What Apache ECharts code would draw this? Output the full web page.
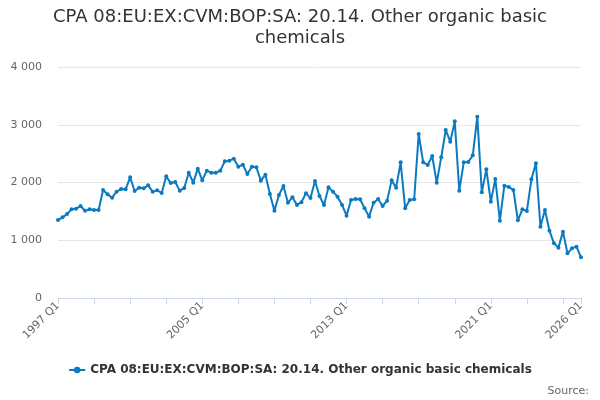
<!DOCTYPE html>
<html lang="en">
<head>
    <meta charset="UTF-8">
    <title>CPA 08:EU:EX:CVM:BOP:SA: 20.14. Other organic basic chemicals</title>
    <script src="https://cdn.jsdelivr.net/npm/echarts@6/dist/echarts.min.js"></script>
    <style>
        body { margin: 0; background: #fff; }
        #chart { width: 600px; height: 400px; }
    </style>
</head>
<body>
<div id="chart"></div>
<script>
    const titleText = 'CPA 08:EU:EX:CVM:BOP:SA: 20.14. Other organic basic\nchemicals';
    const seriesName = 'CPA 08:EU:EX:CVM:BOP:SA: 20.14. Other organic basic chemicals';

    // quarters 1997 Q1 .. 2026 Q1
    const quarters = [];
    for (let y = 1997; y <= 2026; y++) {
        for (let q = 1; q <= 4; q++) {
            if (y === 2026 && q > 1) break;
            quarters.push(y + ' Q' + q);
        }
    }

    // values
    const values = [
        1350, 1397, 1455, 1535, 1547, 1593, 1512, 1535, 1524, 1524,
        1870, 1795, 1737, 1841, 1887, 1882, 2089, 1853, 1911, 1900,
        1951, 1841, 1864, 1818, 2107, 1990, 2010, 1859, 1905, 2170,
        1997, 2240, 2037, 2205, 2170, 2170, 2205, 2366, 2378, 2412,
        2274, 2309, 2147, 2274, 2263, 2032, 2136, 1801, 1512, 1784,
        1939, 1651, 1743, 1610, 1660, 1815, 1730, 2026, 1766, 1611,
        1916, 1841, 1755, 1611, 1426, 1697, 1714, 1709, 1553, 1409,
        1651, 1714, 1593, 1686, 2037, 1911, 2349, 1553, 1697, 1709,
        2840, 2349, 2303, 2459, 1997, 2436, 2909, 2707, 3059, 1859,
        2349, 2355, 2470, 3140, 1830, 2228, 1668, 2061, 1339, 1945,
        1920, 1870, 1345, 1535, 1507, 2055, 2332, 1235, 1524, 1166,
        947, 872, 1149, 774, 860, 889, 704
    ];

    const labelIdx = [0, 32, 64, 96, quarters.length - 1];

    const chart = echarts.init(document.getElementById('chart'));
    chart.setOption({
        animation: false,
        textStyle: { fontFamily: 'DejaVu Sans' },
        title: {
            text: titleText,
            left: 'center',
            top: 2,
            textStyle: { fontSize: 18, fontWeight: 'normal', color: '#333333', lineHeight: 21 }
        },
        grid: { left: 58, right: 19, top: 67, bottom: 102 },
        legend: {
            data: [seriesName],
            bottom: 19,
            left: 'center',
            itemWidth: 16,
            itemHeight: 8,
            itemGap: 6,
            textStyle: { fontSize: 12, fontWeight: 'bold', color: '#333333' }
        },
        graphic: [{
            type: 'text',
            right: 11,
            bottom: 3,
            style: { text: 'Source:', font: '11px "DejaVu Sans"', fill: '#666666' }
        }],
        xAxis: {
            type: 'category',
            data: quarters,
            boundaryGap: false,
            axisLine: { lineStyle: { color: '#ccd6eb' } },
            axisTick: {
                length: 6,
                lineStyle: { color: '#ccd6eb' },
                interval: (i) => i % 8 === 0 || i === quarters.length - 1
            },
            axisLabel: {
                rotate: 45,
                fontSize: 11,
                color: '#666666',
                margin: 6,
                interval: (i) => labelIdx.includes(i)
            },
            splitLine: { show: false }
        },
        yAxis: {
            type: 'value',
            min: 0,
            max: 4000,
            interval: 1000,
            axisLine: { show: false },
            axisTick: { show: false },
            axisLabel: {
                fontSize: 11,
                color: '#666666',
                margin: 16,
                formatter: (v) => String(v).replace(/\B(?=(\d{3})+(?!\d))/g, ' ')
            },
            splitLine: { lineStyle: { color: '#e6e6e6' } }
        },
        series: [{
            name: seriesName,
            type: 'line',
            data: values,
            symbol: 'circle',
            symbolSize: 4,
            showAllSymbol: true,
            color: '#0b7bc1',
            lineStyle: { width: 2 }
        }]
    });
</script>
</body>
</html>
